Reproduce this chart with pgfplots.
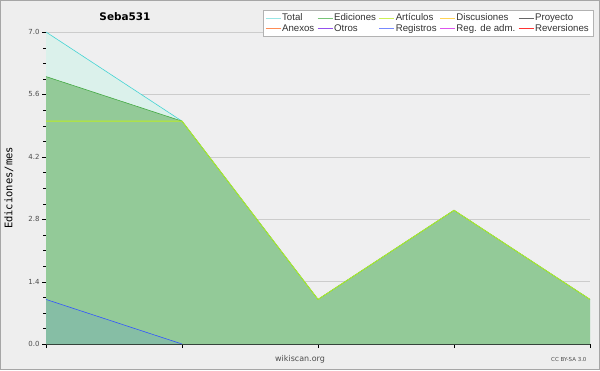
\documentclass[border=0pt]{standalone}
\usepackage{pgfplots}
\pgfplotsset{compat=1.18}
\usepackage{fontspec}
\setmainfont{DejaVu Sans}
\newfontfamily\legfont{Liberation Sans}
\newfontfamily\ylabfont{DejaVu Sans Mono}
\definecolor{bg}{HTML}{EEEEEE}
\definecolor{plotbg}{HTML}{EFEFF0}
\definecolor{cTotal}{HTML}{44D4D4}
\definecolor{cTotalFill}{HTML}{DBF1EB}
\definecolor{cEdic}{HTML}{44AA44}
\definecolor{cEdicFill}{HTML}{93CA98}
\definecolor{cArt}{HTML}{BBEE22}
\definecolor{cDisc}{HTML}{FFCC22}
\definecolor{cProy}{HTML}{555555}
\definecolor{cAnex}{HTML}{FF7733}
\definecolor{cOtros}{HTML}{8833EE}
\definecolor{cReg}{HTML}{3355FF}
\definecolor{cRegFill}{HTML}{86BEA5}
\definecolor{cRegAdm}{HTML}{DD33EE}
\definecolor{cRev}{HTML}{FF2222}
\definecolor{lTotal}{HTML}{99E6E6}
\definecolor{lEdic}{HTML}{77C477}
\definecolor{lArt}{HTML}{CCF055}
\definecolor{lDisc}{HTML}{FFD455}
\definecolor{lProy}{HTML}{666666}
\definecolor{lAnex}{HTML}{FF8C55}
\definecolor{lOtros}{HTML}{9450EE}
\definecolor{lReg}{HTML}{7788FF}
\definecolor{lRegAdm}{HTML}{DD55EE}
\definecolor{lRev}{HTML}{FF3333}
\begin{document}
\begin{tikzpicture}[x=1bp,y=1bp]
\fill[bg] (0,0) rectangle (600,370);
\draw[gray!70] (0.5,0.5) rectangle (599.5,369.5);
\node[font=\bfseries\fontsize{10.5}{12}\selectfont] at (125,353) {Seba531};
\node[font=\fontsize{8}{9}\selectfont, text=black!70] at (300,11) {wikiscan.org};
\node[font=\fontsize{5.5}{6}\selectfont, text=black!70, anchor=east] at (590,11) {CC BY-SA 3.0};
\begin{axis}[
  at={(46bp,26bp)}, anchor=south west,
  scale only axis, width=544bp, height=312bp,
  xmin=0, xmax=4, ymin=0, ymax=7,
  axis background/.style={fill=plotbg},
  axis line style={black},
  axis x line*=bottom, axis y line*=left,
  xtick={0,1,2,3,4}, xticklabels={},
  ytick={0,1.4,2.8,4.2,5.6,7},
  minor y tick num=3,
  yticklabel style={/pgf/number format/fixed,/pgf/number format/fixed zerofill,/pgf/number format/precision=1, font=\fontsize{7}{8}\selectfont, text=black!70, xshift=1bp},
  /pgf/number format/assume math mode=true,
  tick align=outside, tick style={black},
  major tick length=4bp, minor tick length=3bp,
  ymajorgrids, grid style={gray!40},
  ylabel={Ediciones/mes}, ylabel style={font=\ylabfont\fontsize{10.5}{11}\selectfont, at={(-37bp,0.5)}, anchor=center},
  legend columns=5,
  legend style={at={(1.0055,1.0705)}, anchor=north east, draw=gray!60, fill=white,
    font=\legfont\fontsize{9.7}{11}\selectfont, text=black!80, inner xsep=2bp, inner ysep=1.5bp, row sep=-2bp,
    /tikz/every even column/.append style={column sep=1bp},
    /tikz/every odd column/.append style={column sep=-1bp}},
  legend cell align=left,
  legend image code/.code={\draw[line width=0.8pt,#1] (0bp,0bp) -- (15bp,0bp);},
  clip=false,
]
\addlegendimage{draw=lTotal}
\addlegendimage{draw=lEdic}
\addlegendimage{draw=lArt}
\addlegendimage{draw=lDisc}
\addlegendimage{draw=lProy}
\addlegendimage{draw=lAnex}
\addlegendimage{draw=lOtros}
\addlegendimage{draw=lReg}
\addlegendimage{draw=lRegAdm}
\addlegendimage{draw=lRev}
\legend{Total,Ediciones,Artículos,Discusiones,Proyecto,Anexos,Otros,Registros,Reg. de adm.,Reversiones}
\addplot[forget plot, draw=none, fill=cTotalFill] coordinates {(0,7) (1,5) (2,1) (3,3) (4,1)} \closedcycle;
\addplot[forget plot, draw=none, fill=cEdicFill] coordinates {(0,6) (1,5) (2,1) (3,3) (4,1)} \closedcycle;
\addplot[forget plot, draw=none, fill=cRegFill] coordinates {(0,1) (1,0) (2,0) (3,0) (4,0)} \closedcycle;
\addplot[forget plot, cTotal, line width=0.6pt] coordinates {(0,7) (1,5) (2,1) (3,3) (4,1)};
\addplot[forget plot, cEdic, line width=0.6pt] coordinates {(0,6) (1,5) (2,1) (3,3) (4,1)};
\addplot[forget plot, cArt, line width=0.8pt] coordinates {(0,5) (1,5) (2,1) (3,3) (4,1)};
\addplot[forget plot, cReg, line width=0.6pt] coordinates {(0,1) (1,0)};
\end{axis}
\end{tikzpicture}
\end{document}
